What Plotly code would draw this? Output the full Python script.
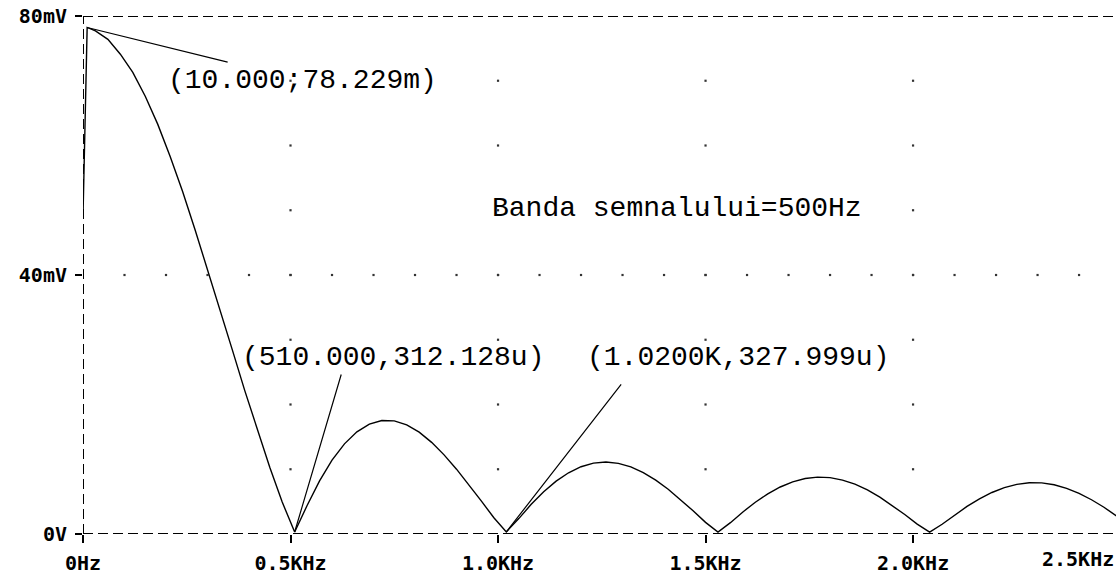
import plotly.graph_objects as go
import numpy as np

# Spectrum magnitude (mV) of the pulse, sampled every 30 Hz after the first bins
freq_hz = [0, 10, 30, 60, 90, 120, 150, 180, 210, 240, 270, 300, 330, 360, 390, 420, 450, 480,
           510, 540, 570, 600, 630, 660, 690, 720, 750, 780, 810, 840, 870, 900, 930, 960, 990,
           1020, 1050, 1080, 1110, 1140, 1170, 1200, 1230, 1260, 1290, 1320, 1350, 1380, 1410,
           1440, 1470, 1500, 1530, 1560, 1590, 1620, 1650, 1680, 1710, 1740, 1770, 1800, 1830,
           1860, 1890, 1920, 1950, 1980, 2010, 2040, 2070, 2100, 2130, 2160, 2190, 2220, 2250,
           2280, 2310, 2340, 2370, 2400, 2430, 2460, 2490, 2520]
mag_mv = [49.0, 78.229, 77.7, 76.4, 74.1, 71.3, 67.6, 63.3, 58.3, 52.9, 47.0, 40.9, 34.7, 28.4,
          22.1, 16.1, 10.3, 4.93,
          0.312, 4.40, 8.21, 11.40, 13.92, 15.78, 16.97, 17.53, 17.47, 16.85, 15.73, 14.15, 12.22,
          10.01, 7.60, 5.07, 2.51,
          0.328, 2.38, 4.58, 6.52, 8.16, 9.46, 10.39, 10.95, 11.12, 10.91, 10.36, 9.48, 8.31, 6.91,
          5.31, 3.59, 1.80,
          0.30, 1.75, 3.41, 4.90, 6.20, 7.26, 8.06, 8.57, 8.79, 8.70, 8.33, 7.69, 6.80, 5.70, 4.42,
          3.01, 1.52,
          0.30, 1.50, 2.94, 4.26, 5.43, 6.41, 7.16, 7.66, 7.91, 7.89, 7.60, 7.06, 6.28, 5.29, 4.13,
          2.83, 1.44]

# Axis ticks
x_tick_vals = [0, 500, 1000, 1500, 2000]
x_tick_text = ["0Hz", "0.5KHz", "1.0KHz", "1.5KHz", "2.0KHz"]
x_last_tick_text = "2.5KHz"
y_tick_vals = [0, 40, 80]
y_tick_text = ["0V", "40mV", "80mV"]

# Cursor readouts: (point x, point y, label)
cursors = [
    (10, 78.229, "(10.000;78.229m)"),
    (510, 0.312128, "(510.000,312.128u)"),
    (1020, 0.327999, "(1.0200K,327.999u)"),
]
note_text = "Banda semnalului=500Hz"

X_MAX = 2489
Y_MAX = 80

fig = go.Figure()

# dotted grid: vertical dotted lines at major x ticks, horizontal one at mid y tick
minor_y = np.arange(10, 80, 10)
minor_x = np.arange(100, 2500, 100)
gx, gy = [], []
for xv in x_tick_vals[1:]:
    for yv in minor_y:
        gx.append(xv)
        gy.append(yv)
for xv in minor_x:
    gx.append(xv)
    gy.append(40)
fig.add_trace(go.Scatter(x=gx, y=gy, mode="markers",
                         marker=dict(symbol="square", size=2.2, color="#333333", line=dict(width=0)),
                         hoverinfo="skip", showlegend=False))

fig.add_trace(go.Scatter(x=freq_hz, y=mag_mv, mode="lines",
                         line=dict(color="black", width=1.4),
                         showlegend=False))

dash = "10px,5px"
border = dict(color="black", width=2, dash=dash)
shapes = [
    dict(type="line", xref="paper", yref="y", x0=0, x1=1, y0=0, y1=0, line=border),
    dict(type="line", xref="paper", yref="y", x0=0, x1=1, y0=Y_MAX, y1=Y_MAX, line=border),
    dict(type="line", xref="x", yref="y", x0=0, x1=0, y0=0, y1=Y_MAX, line=border),
]

label_font = dict(family="Liberation Mono", size=28, color="black")
annotations = []
# leader lines from the cursor points to their readouts
leader_offsets = [(142, 35), (47, -159), (116, -149)]
label_pos = [(200, 70.1), (378, 27.3), (1209, 27.3)]
for (cx, cy, txt), (ax, ay), (lx, ly) in zip(cursors, leader_offsets, label_pos):
    annotations.append(dict(x=cx, y=cy, xref="x", yref="y", text="", showarrow=True,
                            ax=ax, ay=ay, arrowhead=0, arrowwidth=1.2, arrowcolor="black",
                            standoff=0, startstandoff=0))
    annotations.append(dict(x=lx, y=ly, xref="x", yref="y", text=txt, showarrow=False,
                            xanchor="left", yanchor="middle", font=label_font))
annotations.append(dict(x=980, y=50.2, xref="x", yref="y", text=note_text, showarrow=False,
                        xanchor="left", yanchor="middle", font=label_font))

tick_font = dict(family="DejaVu Sans Mono", size=20, color="black", weight="bold")
# last tick label is pinned to the right edge so it stays readable
annotations.append(dict(x=1, y=0, xref="paper", yref="paper",
                        text=x_last_tick_text, showarrow=False, xanchor="right",
                        yanchor="top", yshift=-11, font=tick_font))

fig.update_layout(
    width=1116, height=576,
    margin=dict(l=83, r=0, t=16, b=42, autoexpand=False),
    paper_bgcolor="white", plot_bgcolor="white",
    shapes=shapes, annotations=annotations,
    xaxis=dict(range=[0, X_MAX], tickvals=x_tick_vals, ticktext=x_tick_text,
               showgrid=False, zeroline=False, showline=False, automargin=False,
               ticks="outside", ticklen=8, tickwidth=2, tickcolor="black",
               ticklabelstandoff=3, tickfont=tick_font),
    yaxis=dict(range=[0, Y_MAX], tickvals=y_tick_vals, ticktext=y_tick_text,
               showgrid=False, zeroline=False, showline=False, automargin=False,
               ticks="outside", ticklen=7, tickwidth=2, tickcolor="black",
               ticklabelstandoff=4, tickfont=tick_font),
)

fig.write_html("out.html")
